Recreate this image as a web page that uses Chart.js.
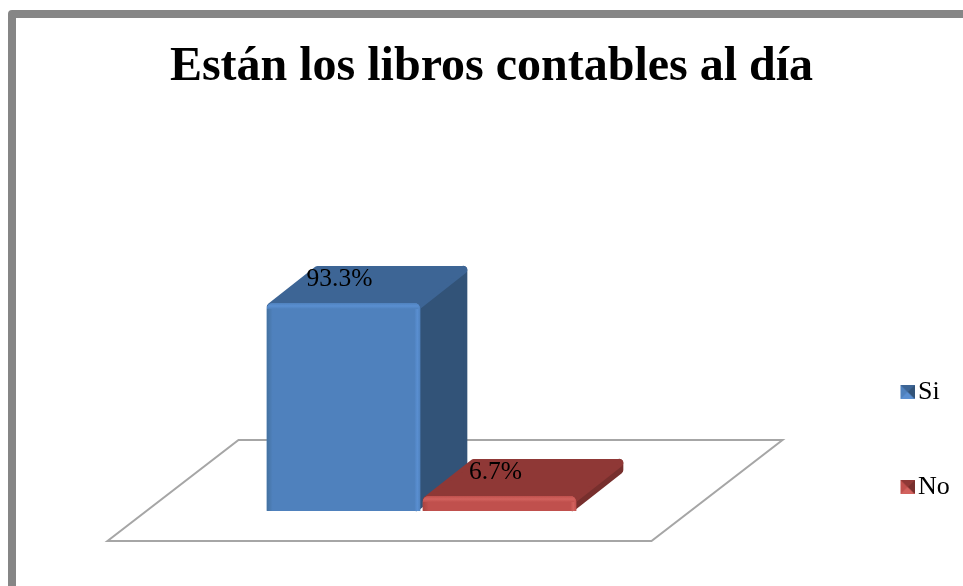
<!DOCTYPE html>
<html>
<head>
<meta charset="utf-8">
<title>Están los libros contables al día</title>
<script src="https://cdn.jsdelivr.net/npm/chart.js@4"></script>
<style>
  html, body { margin: 0; padding: 0; background: #fff; overflow: hidden; }
  canvas { display: block; }
</style>
</head>
<body>
<canvas id="myChart" width="963" height="586"></canvas>
<script>
const categories = ['Libros'];
const seriesNames = ['Si', 'No'];
const siValues = [93.3];
const noValues = [6.7];
const labelTexts = ['93.3%', '6.7%'];

const serif = '"Liberation Serif", "Times New Roman", serif';
const frontColors = ['#4f81bd', '#c0504d'];
const lightColors = ['#5a8fd1', '#d2625e'];
const edgeColors = ['#44719f', '#a9443f'];
const topColors = ['#3d6595', '#8f3836'];
const sideColors = ['#325378', '#772f2d'];
const depthX = 47;
const depthY = -37;

// little bevelled square for the legend, drawn off to the right so it sits close to the text
function legendIcon(i) {
  const c = document.createElement('canvas');
  c.width = 20;
  c.height = 14;
  const g = c.getContext('2d');
  const tri = (color, pts) => {
    g.fillStyle = color;
    g.beginPath();
    pts.forEach((p, n) => n ? g.lineTo(p[0], p[1]) : g.moveTo(p[0], p[1]));
    g.closePath();
    g.fill();
  };
  tri(frontColors[i], [[6, 0], [20, 0], [20, 14], [6, 14]]);
  tri(topColors[i], [[6, 0], [20, 0], [13, 7]]);
  tri(sideColors[i], [[20, 0], [20, 14], [13, 7]]);
  tri(lightColors[i], [[6, 14], [20, 14], [13, 7]]);
  return c;
}

function eachBar(chart, fn) {
  chart.data.datasets.forEach((ds, i) => {
    const bar = chart.getDatasetMeta(i).data[0];
    fn({
      left: bar.x - bar.width / 2,
      right: bar.x + bar.width / 2,
      top: bar.y,
      bottom: bar.base,
      x: bar.x
    }, i);
  });
}

function poly(ctx, pts, color) {
  ctx.fillStyle = color;
  ctx.strokeStyle = color;
  ctx.lineWidth = 8;
  ctx.lineJoin = 'round';
  ctx.beginPath();
  pts.forEach((p, n) => n ? ctx.lineTo(p[0], p[1]) : ctx.moveTo(p[0], p[1]));
  ctx.closePath();
  ctx.stroke();
  ctx.fill();
}

const backdrop = {
  id: 'backdrop',
  beforeDraw(chart) {
    const ctx = chart.ctx;
    ctx.save();
    ctx.fillStyle = '#fff';
    ctx.fillRect(0, 0, chart.width, chart.height);
    ctx.strokeStyle = '#868686';
    ctx.lineWidth = 8;
    ctx.lineJoin = 'round';
    ctx.strokeRect(12, 14, 1100, 800);
    ctx.restore();
  },
  beforeDatasetsDraw(chart) {
    const ctx = chart.ctx;
    const a = chart.chartArea;
    ctx.save();
    // floor
    ctx.strokeStyle = '#a6a6a6';
    ctx.lineWidth = 2;
    ctx.beginPath();
    ctx.moveTo(a.left - 158, a.bottom + 30);
    ctx.lineTo(a.right + 74, a.bottom + 30);
    ctx.lineTo(a.right + 205, a.bottom - 71);
    ctx.lineTo(a.left - 27, a.bottom - 71);
    ctx.closePath();
    ctx.stroke();
    // side and top faces
    const r = 4;
    eachBar(chart, (b, i) => {
      poly(ctx, [[b.right - r, b.top + r], [b.right + depthX - r, b.top + depthY + r],
        [b.right + depthX - r, b.bottom + depthY - r], [b.right - r, b.bottom - r]], sideColors[i]);
      poly(ctx, [[b.left + r, b.top + r], [b.left + depthX + r, b.top + depthY + r],
        [b.right + depthX - r, b.top + depthY + r], [b.right - r, b.top + r]], topColors[i]);
    });
    ctx.restore();
  },
  afterDatasetsDraw(chart) {
    const ctx = chart.ctx;
    eachBar(chart, (b, i) => {
      // bevel on the front face, clipped to the rounded bar
      ctx.save();
      ctx.beginPath();
      ctx.roundRect(b.left, b.top, b.right - b.left, b.bottom - b.top, [6, 6, 1, 1]);
      ctx.clip();
      const band = 6;
      let g = ctx.createLinearGradient(b.right - band, 0, b.right, 0);
      g.addColorStop(0, frontColors[i]);
      g.addColorStop(0.5, lightColors[i]);
      g.addColorStop(1, frontColors[i]);
      ctx.fillStyle = g;
      ctx.fillRect(b.right - band, b.top, band, b.bottom - b.top);
      g = ctx.createLinearGradient(0, b.top, 0, b.top + band);
      g.addColorStop(0, frontColors[i]);
      g.addColorStop(0.5, lightColors[i]);
      g.addColorStop(1, frontColors[i]);
      ctx.fillStyle = g;
      ctx.fillRect(b.left, b.top, b.right - b.left - 2, band);
      g = ctx.createLinearGradient(b.left, 0, b.left + band, 0);
      g.addColorStop(0, edgeColors[i]);
      g.addColorStop(1, frontColors[i]);
      ctx.fillStyle = g;
      ctx.fillRect(b.left, b.top + band, band, b.bottom - b.top - band);
      ctx.restore();
      // value label
      ctx.save();
      ctx.fillStyle = '#000';
      ctx.font = '25.5px ' + serif;
      ctx.textAlign = 'center';
      ctx.textBaseline = 'middle';
      ctx.fillText(labelTexts[i], b.x - 4, b.top - 23.5);
      ctx.restore();
    });
  },
  afterLayout(chart) {
    // the legend sits low and far right, away from the plot height
    const l = chart.legend;
    const pad = chart.options.plugins.legend.labels.padding;
    l.left = 904 - pad;
    l.right = chart.width;
    l.top = 379 - pad;
    l.bottom = chart.height;
  }
};

new Chart(document.getElementById('myChart').getContext('2d'), {
  type: 'bar',
  data: {
    labels: categories,
    datasets: [
      { label: seriesNames[0], data: siValues, backgroundColor: frontColors[0], borderRadius: { topLeft: 6, topRight: 6 } },
      { label: seriesNames[1], data: noValues, backgroundColor: frontColors[1], borderRadius: { topLeft: 6, topRight: 6 } }
    ]
  },
  options: {
    responsive: false,
    animation: false,
    layout: { padding: { left: 20, bottom: 75 } },
    barPercentage: 0.985,
    categoryPercentage: 1,
    scales: {
      x: { display: false },
      y: {
        min: 0,
        max: 100,
        ticks: { display: false },
        grid: { display: false },
        border: { display: false },
        afterFit(scale) { scale.width = 245.5; }
      },
      spare: {
        position: 'right',
        display: true,
        ticks: { display: false },
        grid: { display: false },
        border: { display: false },
        afterFit(scale) { scale.width = 325.5; }
      }
    },
    plugins: {
      tooltip: { enabled: false },
      title: {
        display: true,
        text: 'Están los libros contables al día',
        color: '#000',
        font: { family: serif, size: 48, weight: 'bold', lineHeight: 1.2 },
        padding: { top: 39, bottom: 191.4 }
      },
      legend: {
        position: 'right',
        align: 'start',
        maxWidth: 60,
        labels: {
          color: '#000',
          font: { family: serif, size: 26 },
          usePointStyle: true,
          boxWidth: 1,
          padding: 69,
          generateLabels(chart) {
            return Chart.defaults.plugins.legend.labels.generateLabels(chart).map((item, i) => {
              item.pointStyle = legendIcon(i);
              return item;
            });
          }
        }
      }
    }
  },
  plugins: [backdrop]
});
</script>
</body>
</html>
